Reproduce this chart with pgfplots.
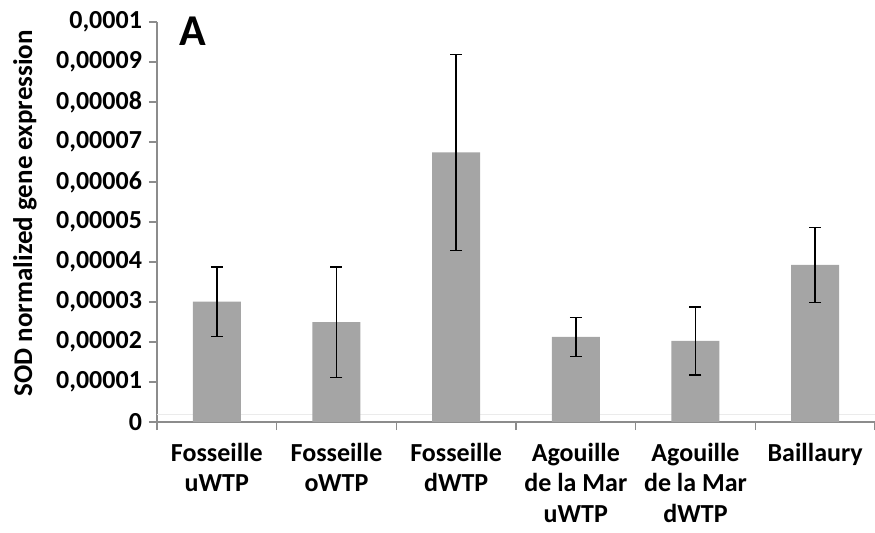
\documentclass[border=0pt]{standalone}
\usepackage{pgfplots}
\pgfplotsset{compat=1.18}
\usepackage{fontspec}
\setmainfont{Carlito}

\definecolor{bargray}{HTML}{A5A5A5}
\definecolor{axisgray}{HTML}{8C8C8C}

\begin{document}
\begin{tikzpicture}
  \path[use as bounding box] (-78.5pt,-55pt) rectangle (359pt,211pt);
  \begin{axis}[
    scale only axis,
    width=359pt, height=200pt,
    xmin=-0.5, xmax=5.5,
    ymin=0, ymax=0.0001,
    scaled y ticks=false,
    axis lines*=left,
    axis line style={axisgray, line width=0.6pt},
    tick style={axisgray, line width=0.6pt},
    tick align=outside,
    major tick length=4pt,
    xtick={-0.5,0.5,...,5.5},
    x tick label as interval,
    xticklabels={{Fosseille\\uWTP},{Fosseille\\oWTP},{Fosseille\\dWTP},
      {Agouille\\de la Mar\\uWTP},{Agouille\\de la Mar\\dWTP},{Baillaury}},
    xticklabel style={align=center, font=\fontsize{13}{15.3}\selectfont\bfseries,
      yshift=-3pt},
    ytick={0,0.00001,...,0.0001},
    yticklabels={{0},{0,00001},{0,00002},{0,00003},{0,00004},{0,00005},
      {0,00006},{0,00007},{0,00008},{0,00009},{0,0001}},
    yticklabel style={font=\fontsize{13}{15}\selectfont\bfseries},
    ylabel={SOD normalized gene expression},
    every axis y label/.style={at={(axis description cs:0,0.522)},
      xshift=-66pt, rotate=90, anchor=center,
      font=\fontsize{13.5}{15}\selectfont\bfseries},
    clip=false,
  ]
    % faint line near the base
    \addplot[draw=black!8, line width=0.6pt, forget plot] coordinates {
      (-0.5, 0.0000018) (5.5, 0.0000018)
    };
    \addplot[ybar, bar width=24pt, bar shift=0pt, fill=bargray, draw=none,
      error bars/.cd, y dir=both, y explicit,
      error bar style={black, line width=0.7pt},
      error mark options={rotate=90, mark size=3pt, black, line width=0.7pt}]
      coordinates {
      (0, 0.0000301) +- (0, 0.0000087)
      (1, 0.0000250) +- (0, 0.0000138)
      (2, 0.0000674) +- (0, 0.0000245)
      (3, 0.0000213) +- (0, 0.0000049)
      (4, 0.0000203) +- (0, 0.0000085)
      (5, 0.0000393) +- (0, 0.0000094)
    };
    \node[anchor=base west, inner sep=0,
      font=\fontsize{22}{24}\selectfont\bfseries]
      at ([xshift=11pt, yshift=-11.5pt]rel axis cs:0,1) {A};
  \end{axis}
\end{tikzpicture}
\end{document}
